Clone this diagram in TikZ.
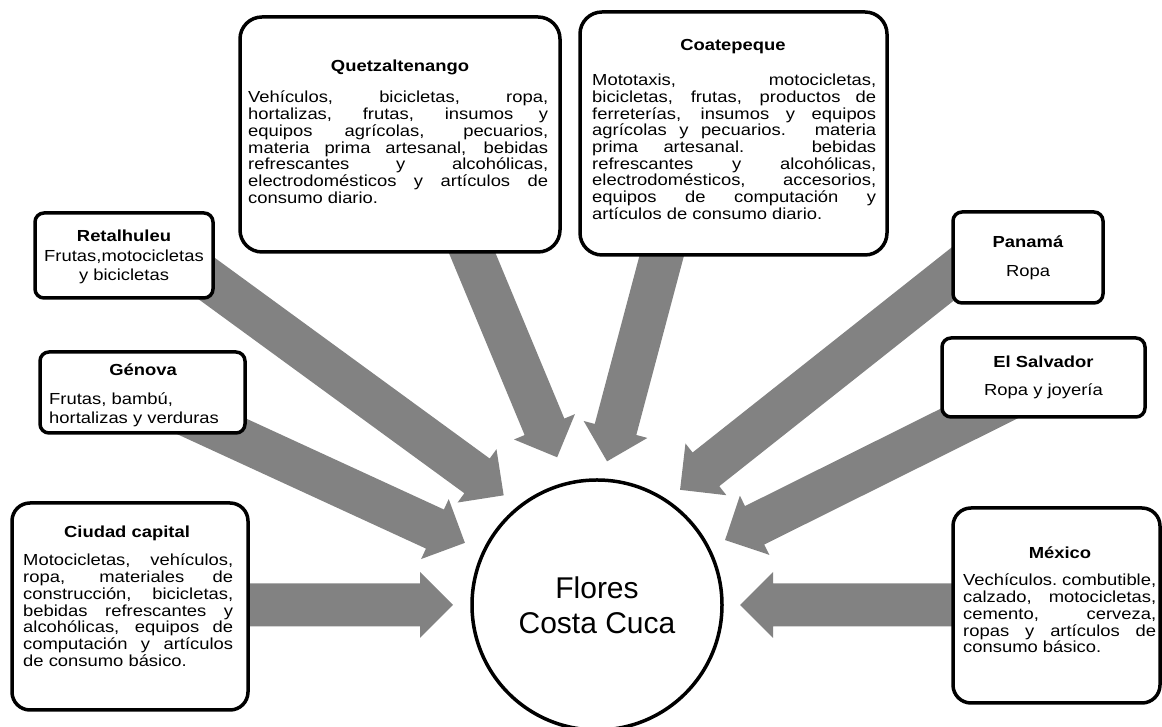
\documentclass[tikz,border=0pt]{standalone}
\usepackage{fontspec}
\setmainfont{Liberation Sans}
\newfontfamily\boxfont{Liberation Sans}[FakeStretch=1.15]
\usetikzlibrary{calc,backgrounds}
\tolerance=10000
\hbadness=10000
\hfuzz=5pt

\newcommand{\fatarrow}[2]{%
  \fill[arrowgrey] ($(#1)!21.5pt!90:(#2)$) -- ($(#2)!33pt!(#1)!21.5pt!-90:(#1)$)
    -- ($(#2)!33pt!(#1)!33pt!-90:(#1)$) -- (#2) -- ($(#2)!33pt!(#1)!33pt!90:(#1)$)
    -- ($(#2)!33pt!(#1)!21.5pt!90:(#1)$) -- ($(#1)!21.5pt!-90:(#2)$) -- cycle;}

\tikzset{
  place/.style={draw, line width=3.5pt, fill=white, inner sep=0pt, rounded corners=#1},
  place/.default=20pt,
  ttl/.style={font=\boxfont\fontsize{16pt}{16.7pt}\selectfont\bfseries, inner sep=0pt},
  txt/.style={font=\boxfont\fontsize{16pt}{16.7pt}\selectfont, inner sep=0pt, align=justify, anchor=north west},
  smalltxt/.style={font=\boxfont\fontsize{16pt}{16.7pt}\selectfont, inner sep=0pt, align=center},
  hub/.style={circle, draw, line width=3.5pt, fill=white, minimum size=250pt, inner sep=0pt, align=center, font=\fontsize{30pt}{35pt}\selectfont}
}

\begin{document}
\begin{tikzpicture}[x=1pt,y=1pt]
\definecolor{arrowgrey}{HTML}{828282}
\useasboundingbox (0,0) rectangle (1162,727);

\node[hub] (flores) at (597,122) {Flores\\Costa Cuca};

\node[place=22pt, minimum width=320pt, minimum height=235pt] (quetz) at (400,592.5) {};
\node[ttl] (quetzT) at (400,660) {Quetzaltenango};
\node[txt, text width=300pt] (quetzB) at (248,636) {Vehículos, bicicletas, ropa, \linebreak hortalizas, frutas, insumos y \linebreak equipos agrícolas, pecuarios, \linebreak materia prima artesanal, bebidas \linebreak refrescantes y alcohólicas, \linebreak electrodomésticos y artículos de \linebreak consumo diario.};

\node[place=22pt, minimum width=307pt, minimum height=243pt] (coat) at (733.5,593.5) {};
\node[ttl] (coatT) at (733,680) {Coatepeque};
\node[txt, text width=284pt] (coatB) at (592,653) {Mototaxis, motocicletas, \linebreak bicicletas, frutas, productos de \linebreak ferreterías, insumos y equipos \linebreak agrícolas y pecuarios. materia \linebreak prima artesanal. bebidas \linebreak refrescantes y alcohólicas, \linebreak electrodomésticos, accesorios, \linebreak equipos de computación y \linebreak artículos de consumo diario.};

\node[place=9pt, minimum width=178pt, minimum height=85pt] (retal) at (124,471.5) {};
\node[smalltxt] (retalT) at (124,470) {\textbf{Retalhuleu}\\[3pt]Frutas,motocicletas\\[3pt]y bicicletas};

\node[place=9pt, minimum width=205pt, minimum height=81pt] (genova) at (142.5,334.5) {};
\node[ttl] (genovaT) at (143,357) {Génova};
\node[smalltxt, align=left, anchor=north west] (genovaB) at (49,334) {Frutas, bambú,\\[2pt]hortalizas y verduras};

\node[place=18pt, minimum width=236pt, minimum height=207pt] (ciudad) at (130,120.5) {};
\node[ttl] (ciudadT) at (127,194) {Ciudad capital};
\node[txt, text width=210pt] (ciudadB) at (23,173) {Motocicletas, vehículos, \linebreak ropa, materiales de \linebreak construcción, bicicletas, \linebreak bebidas refrescantes y \linebreak alcohólicas, equipos de \linebreak computación y artículos \linebreak de consumo básico.};

\node[place=9pt, minimum width=150pt, minimum height=91pt] (panama) at (1028,469.5) {};
\node[smalltxt] (panamaT) at (1028,469.5) {\textbf{Panamá}\\[12pt]Ropa};

\node[place=9pt, minimum width=203pt, minimum height=79pt] (salv) at (1043.5,349.5) {};
\node[smalltxt] (salvT) at (1043.5,349.5) {\textbf{El Salvador}\\[12pt]Ropa y joyería};

\node[place=18pt, minimum width=207pt, minimum height=195pt] (mexico) at (1056.5,121.5) {};
\node[ttl] (mexicoT) at (1060,174) {México};
\node[txt, text width=193pt] (mexicoB) at (963,153) {Vechículos.~combutible, \linebreak calzado, motocicletas, \linebreak cemento, cerveza, \linebreak ropas y artículos de \linebreak consumo básico.};

\begin{pgfonlayer}{background}
\coordinate (retalTail) at ($(retal.south east)+(-16,27)$);
\coordinate (retalTip) at ($(flores.center)+(130.4:144pt)$);
\coordinate (genovaTail) at ($(genova.center)+(39,-20)$);
\coordinate (genovaTip) at ($(flores.center)+(154.8:146pt)$);
\coordinate (ciudadTail) at ($(ciudad.east |- flores.center)+(-20,0)$);
\coordinate (ciudadTip) at ($(flores.center)+(180:144pt)$);
\coordinate (quetzTail) at ($(quetz.south)+(65,18)$);
\coordinate (quetzTip) at ($(flores.center)+(105.1:153pt)$);
\coordinate (coatTail) at ($(coat.south)+(-67,19)$);
\coordinate (coatTip) at ($(flores.center)+(86:144pt)$);
\coordinate (panamaTail) at ($(panama.west)+(16,-5)$);
\coordinate (panamaTip) at ($(flores.center)+(54.2:142pt)$);
\coordinate (salvTail) at ($(salv.center)+(-4,-6)$);
\coordinate (salvTip) at ($(flores.center)+(26.9:143.6pt)$);
\coordinate (mexicoTail) at ($(mexico.west |- flores.center)+(20,0)$);
\coordinate (mexicoTip) at ($(flores.center)+(0:143pt)$);
\fatarrow{retalTail}{retalTip}
\fatarrow{genovaTail}{genovaTip}
\fatarrow{ciudadTail}{ciudadTip}
\fatarrow{quetzTail}{quetzTip}
\fatarrow{coatTail}{coatTip}
\fatarrow{panamaTail}{panamaTip}
\fatarrow{salvTail}{salvTip}
\fatarrow{mexicoTail}{mexicoTip}
\end{pgfonlayer}
\end{tikzpicture}
\end{document}
